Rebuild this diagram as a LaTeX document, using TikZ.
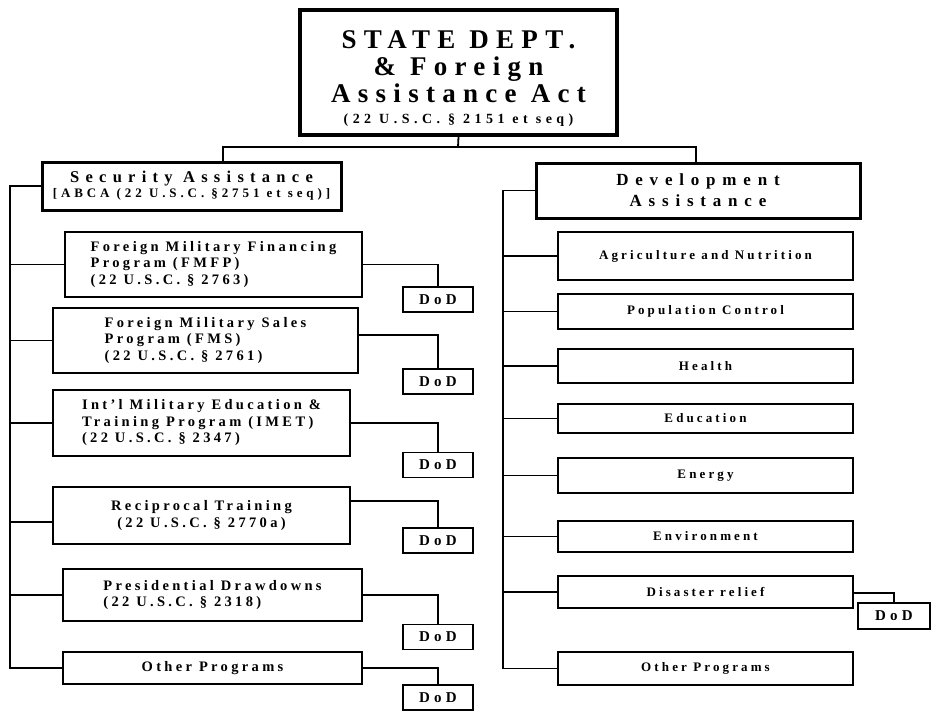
\documentclass[tikz,border=0pt]{standalone}
\usepackage{fontspec}
\setmainfont{Liberation Serif}
\begin{document}
\begin{tikzpicture}[x=1pt,y=-1pt,
  conn/.style={line width=1.8pt},
  bigbox/.style={draw, line width=3.2pt, inner sep=0pt, align=center},
  prog/.style={draw, line width=1.8pt, inner sep=0pt, align=left, font={\bfseries\fontsize{14.5}{16.5}\selectfont\addfontfeature{LetterSpace=23}}},
  item/.style={draw, line width=1.8pt, inner sep=0pt, align=center, minimum width=295pt, font={\bfseries\fontsize{13}{14}\selectfont\addfontfeature{LetterSpace=24}}},
  dod/.style={draw, line width=1.8pt, inner sep=0pt, minimum width=70pt, minimum height=25pt, font={\bfseries\fontsize{15}{16}\selectfont\addfontfeature{LetterSpace=28}}},
]
\useasboundingbox (0,0) rectangle (931,710);

% top
\node[bigbox, line width=3.5pt, minimum width=317pt, minimum height=125pt,
  font={\bfseries\fontsize{27}{27}\selectfont\addfontfeature{LetterSpace=27}}] (top) at (458.5,72.5)
  {\rule{0pt}{30pt}STATE DEPT.\\ \& Foreign\\ Assistance Act\\[-6pt]
   {\fontsize{14}{14}\selectfont\addfontfeature{LetterSpace=32}(22 U.S.C. § 2151 et seq)}};

\node[bigbox, line width=3pt, minimum width=299pt, minimum height=48pt,
  font={\bfseries\fontsize{16.5}{15}\selectfont\addfontfeature{LetterSpace=38}}] (sec) at (191.5,186)
  {Security Assistance\\ {\fontsize{13}{13}\selectfont\addfontfeature{LetterSpace=30}[ABCA (22 U.S.C. §2751 et seq)]}};

\node[bigbox, line width=3pt, minimum width=324pt, minimum height=55pt,
  font={\bfseries\fontsize{17}{21}\selectfont\addfontfeature{LetterSpace=40}}] (dev) at (698,190.5)
  {Development\\Assistance};

% security programs
\node[prog, minimum width=297pt, minimum height=65pt] (fmfp) at (213.5,264.5)
  {Foreign Military Financing\\Program (FMFP)\\(22 U.S.C. § 2763)};
\node[prog, minimum width=305pt, minimum height=65pt] (fms) at (205.5,340.5)
  {Foreign Military Sales\\Program (FMS)\\(22 U.S.C. § 2761)};
\node[prog, minimum width=297pt, minimum height=66pt] (imet) at (201.5,423)
  {Int'l Military Education \&\\Training Program (IMET)\\(22 U.S.C. § 2347)};
\node[prog, align=center, minimum width=297pt, minimum height=57pt] (rec) at (201.5,515.5)
  {Reciprocal Training\\(22 U.S.C. § 2770a)};
\node[prog, minimum width=299pt, minimum height=52pt] (pres) at (212.5,595)
  {Presidential Drawdowns\\(22 U.S.C. § 2318)};
\node[prog, minimum width=299pt, minimum height=32pt] (oth1) at (212.5,668)
  {Other Programs};

\node[dod] (d1) at (438,299.5) {DoD};
\node[dod] (d2) at (438,381.5) {DoD};
\node[dod] (d3) at (438,465) {DoD};
\node[dod] (d4) at (438,540.5) {DoD};
\node[dod] (d5) at (438,637) {DoD};
\node[dod] (d6) at (438,697.5) {DoD};

% development items
\node[item, minimum height=48pt] (agr) at (705.5,256) {Agriculture and Nutrition};
\node[item, minimum height=35pt] (pop) at (705.5,311.5) {Population Control};
\node[item, minimum height=34pt] (hea) at (705.5,366) {Health};
\node[item, minimum height=29pt] (edu) at (705.5,418.5) {Education};
\node[item, minimum height=35pt] (ene) at (705.5,475.5) {Energy};
\node[item, minimum height=31pt] (env) at (705.5,536.5) {Environment};
\node[item, minimum height=32pt] (dis) at (705.5,592) {Disaster relief};
\node[item, minimum height=33pt] (oth2) at (705.5,668.5) {Other Programs};
\node[dod, minimum width=72pt, minimum height=26pt] (dd) at (894,616) {DoD};

% connectors
\coordinate (hub) at (458,147);
\coordinate (jL) at (223,147);
\coordinate (jR) at (696,147);
\coordinate (tL) at (10,0);
\coordinate (tR) at (503,0);

\draw[conn] (top.south) -- (hub);
\draw[conn] (sec.north -| jL) -- (jL) -- (jR) -- (dev.north -| jR);

\draw[conn] (sec.west) -- (sec.west -| tL) -- (oth1.west -| tL) -- (oth1.west);
\foreach \n in {fmfp,fms,imet,pres}
  \draw[conn] (\n.west) -- (\n.west -| tL);
\draw[conn] ([yshift=-6.5pt]rec.west) -- ([yshift=-6.5pt]rec.west -| tL);

\draw[conn] (fmfp.east) -| (d1.north);
\draw[conn] ([yshift=5.5pt]fms.east) -| (d2.north);
\draw[conn] (imet.east) -| (d3.north);
\draw[conn] ([yshift=14.5pt]rec.east) -| (d4.north);
\draw[conn] (pres.east) -| (d5.north);
\draw[conn] (oth1.east) -| (d6.north);

\draw[conn] (dev.west) -- (dev.west -| tR) -- (oth2.west -| tR) -- (oth2.west);
\foreach \n in {agr,pop,hea,edu,ene,env,dis}
  \draw[conn] (\n.west) -- (\n.west -| tR);
\draw[conn] ([yshift=-1pt]dis.east) -| (dd.north);
\end{tikzpicture}
\end{document}
